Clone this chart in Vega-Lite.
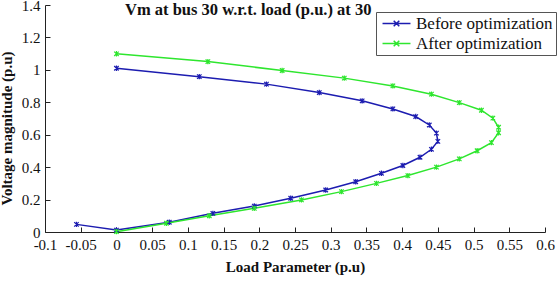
{
  "$schema": "https://vega.github.io/schema/vega-lite/v6.json",
  "width": 500,
  "height": 227,
  "autosize": {"type": "none"},
  "padding": {"left": 45, "top": 5, "right": 14, "bottom": 52},
  "background": "white",
  "title": {
    "text": "Vm at bus 30 w.r.t. load (p.u.) at 30",
    "font": "Liberation Serif",
    "fontSize": 16.5,
    "fontWeight": "bold",
    "color": "#111",
    "anchor": "start",
    "frame": "group",
    "dx": 80,
    "dy": 33,
    "offset": 0,
    "baseline": "alphabetic"
  },
  "data": {
    "values": [
      {"series": "Before optimization", "i": 1, "load": 0, "vm": 1.01},
      {"series": "Before optimization", "i": 2, "load": 0.116, "vm": 0.958},
      {"series": "Before optimization", "i": 3, "load": 0.21, "vm": 0.912},
      {"series": "Before optimization", "i": 4, "load": 0.284, "vm": 0.86},
      {"series": "Before optimization", "i": 5, "load": 0.344, "vm": 0.809},
      {"series": "Before optimization", "i": 6, "load": 0.387, "vm": 0.759},
      {"series": "Before optimization", "i": 7, "load": 0.419, "vm": 0.712},
      {"series": "Before optimization", "i": 8, "load": 0.438, "vm": 0.66},
      {"series": "Before optimization", "i": 9, "load": 0.448, "vm": 0.61},
      {"series": "Before optimization", "i": 10, "load": 0.45, "vm": 0.559},
      {"series": "Before optimization", "i": 11, "load": 0.441, "vm": 0.51},
      {"series": "Before optimization", "i": 12, "load": 0.425, "vm": 0.461},
      {"series": "Before optimization", "i": 13, "load": 0.401, "vm": 0.41},
      {"series": "Before optimization", "i": 14, "load": 0.371, "vm": 0.362},
      {"series": "Before optimization", "i": 15, "load": 0.335, "vm": 0.31},
      {"series": "Before optimization", "i": 16, "load": 0.293, "vm": 0.259},
      {"series": "Before optimization", "i": 17, "load": 0.244, "vm": 0.208},
      {"series": "Before optimization", "i": 18, "load": 0.193, "vm": 0.16},
      {"series": "Before optimization", "i": 19, "load": 0.135, "vm": 0.115},
      {"series": "Before optimization", "i": 20, "load": 0.074, "vm": 0.06},
      {"series": "Before optimization", "i": 21, "load": 0, "vm": 0.012},
      {"series": "Before optimization", "i": 22, "load": -0.056, "vm": 0.047},
      {"series": "After optimization", "i": 1, "load": 0, "vm": 1.099},
      {"series": "After optimization", "i": 2, "load": 0.128, "vm": 1.051},
      {"series": "After optimization", "i": 3, "load": 0.232, "vm": 0.996},
      {"series": "After optimization", "i": 4, "load": 0.319, "vm": 0.949},
      {"series": "After optimization", "i": 5, "load": 0.387, "vm": 0.901},
      {"series": "After optimization", "i": 6, "load": 0.441, "vm": 0.85},
      {"series": "After optimization", "i": 7, "load": 0.48, "vm": 0.798},
      {"series": "After optimization", "i": 8, "load": 0.511, "vm": 0.751},
      {"series": "After optimization", "i": 9, "load": 0.527, "vm": 0.702},
      {"series": "After optimization", "i": 10, "load": 0.535, "vm": 0.646},
      {"series": "After optimization", "i": 11, "load": 0.535, "vm": 0.612},
      {"series": "After optimization", "i": 12, "load": 0.525, "vm": 0.551},
      {"series": "After optimization", "i": 13, "load": 0.505, "vm": 0.501},
      {"series": "After optimization", "i": 14, "load": 0.48, "vm": 0.451},
      {"series": "After optimization", "i": 15, "load": 0.448, "vm": 0.4},
      {"series": "After optimization", "i": 16, "load": 0.408, "vm": 0.348},
      {"series": "After optimization", "i": 17, "load": 0.364, "vm": 0.3},
      {"series": "After optimization", "i": 18, "load": 0.315, "vm": 0.249},
      {"series": "After optimization", "i": 19, "load": 0.259, "vm": 0.198},
      {"series": "After optimization", "i": 20, "load": 0.193, "vm": 0.146},
      {"series": "After optimization", "i": 21, "load": 0.13, "vm": 0.1},
      {"series": "After optimization", "i": 22, "load": 0.07, "vm": 0.054},
      {"series": "After optimization", "i": 23, "load": 0, "vm": 0.002}
    ]
  },
  "encoding": {
    "x": {
      "field": "load",
      "type": "quantitative",
      "scale": {"domain": [-0.1, 0.6], "nice": false, "zero": false},
      "axis": {
        "title": "Load Parameter (p.u)",
        "values": [-0.1, -0.05, 0, 0.05, 0.1, 0.15, 0.2, 0.25, 0.3, 0.35, 0.4, 0.45, 0.5, 0.55, 0.6],
        "format": "~g",
        "labelExpr": "replace(datum.label, '\u2212', '-')",
        "grid": false,
        "domainColor": "#222",
        "tickColor": "#222",
        "tickSize": -5,
        "labelPadding": 10,
        "labelFont": "Liberation Serif",
        "labelFontSize": 15,
        "labelColor": "#111",
        "labelOverlap": false,
        "labelFlush": false,
        "titleFont": "Liberation Serif",
        "titleFontSize": 15,
        "titleFontWeight": "bold",
        "titleColor": "#111",
        "titlePadding": 7
      }
    },
    "y": {
      "field": "vm",
      "type": "quantitative",
      "scale": {"domain": [0, 1.4], "nice": false},
      "axis": {
        "title": "Voltage magnitude (p.u)",
        "values": [0, 0.2, 0.4, 0.6, 0.8, 1, 1.2, 1.4],
        "format": "~g",
        "grid": false,
        "domainColor": "#222",
        "tickColor": "#222",
        "tickSize": -5,
        "labelPadding": 10,
        "labelFont": "Liberation Serif",
        "labelFontSize": 15,
        "labelColor": "#111",
        "labelFlush": false,
        "titleFont": "Liberation Serif",
        "titleFontSize": 15,
        "titleFontWeight": "bold",
        "titleColor": "#111",
        "titlePadding": 7,
        "titleY": 123
      }
    },
    "color": {
      "field": "series",
      "type": "nominal",
      "scale": {"domain": ["Before optimization", "After optimization"], "range": ["#1c1cb0", "#2ee62e"]},
      "legend": {
        "title": null,
        "orient": "none",
        "legendX": 331,
        "legendY": 7,
        "strokeColor": "#555",
        "fillColor": "white",
        "padding": 3,
        "rowPadding": 2,
        "symbolType": "M-2.5,0L2.5,0M-0.5,-0.5L0.5,0.5M-0.5,0.5L0.5,-0.5",
        "symbolSize": 125,
        "symbolOffset": 9,
        "symbolStrokeWidth": 1.5,
        "labelFont": "Liberation Serif",
        "labelFontSize": 17,
        "labelColor": "#111",
        "labelOffset": 11,
        "labelLimit": 300
      }
    },
    "order": {"field": "i", "type": "quantitative"}
  },
  "layer": [
    {"mark": {"type": "line", "strokeWidth": 1.5}},
    {"mark": {"type": "point", "shape": "M-1,-1L1,1M-1,1L1,-1M0,-1.2L0,1.2", "size": 20, "filled": false, "strokeWidth": 1.2, "opacity": 1}}
  ],
  "config": {"view": {"stroke": null}}
}
